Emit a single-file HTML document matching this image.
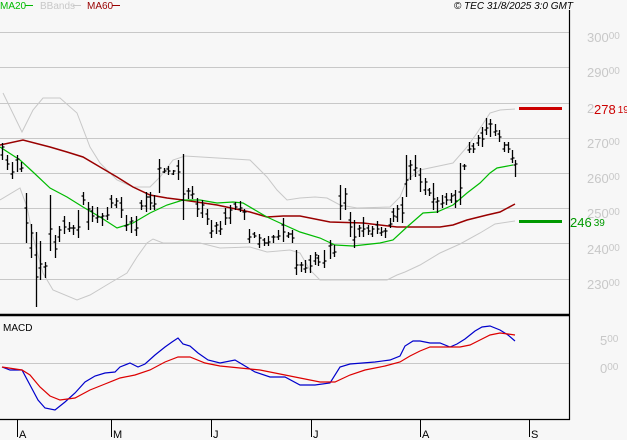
<!DOCTYPE html>
<html><head><meta charset="utf-8"><style>
html,body{margin:0;padding:0;background:#f7f7f7;width:627px;height:440px;overflow:hidden}
svg{display:block;font-family:"Liberation Sans",sans-serif}
</style></head><body>
<svg id="s" width="627" height="440" viewBox="0 0 627 440" xmlns="http://www.w3.org/2000/svg">
<rect width="627" height="440" fill="#f7f7f7"/>
<g stroke="#c8c8c8" stroke-width="1">
<line x1="0" y1="32.5" x2="569" y2="32.5"/><line x1="0" y1="67.5" x2="569" y2="67.5"/>
<line x1="0" y1="103.5" x2="569" y2="103.5"/><line x1="0" y1="138.5" x2="569" y2="138.5"/>
<line x1="0" y1="173.5" x2="569" y2="173.5"/><line x1="0" y1="208.5" x2="569" y2="208.5"/>
<line x1="0" y1="243.5" x2="569" y2="243.5"/><line x1="0" y1="279.5" x2="569" y2="279.5"/>
<line x1="0" y1="363.5" x2="569" y2="363.5"/>
</g>
<g fill="#c8c8c8" font-size="13">
<text x="587" y="42">300<tspan font-size="10" dy="-3">00</tspan></text>
<text x="587" y="77">290<tspan font-size="10" dy="-3">00</tspan></text>
<text x="587" y="148">270<tspan font-size="10" dy="-3">00</tspan></text>
<text x="587" y="183">260<tspan font-size="10" dy="-3">00</tspan></text>
<text x="587" y="218">250<tspan font-size="10" dy="-3">00</tspan></text>
<text x="587" y="254">240<tspan font-size="10" dy="-3">00</tspan></text>
<text x="587" y="289">230<tspan font-size="10" dy="-3">00</tspan></text>
<text x="600" y="345">5<tspan font-size="10" dy="-3">00</tspan></text>
<text x="600" y="373">0<tspan font-size="10" dy="-3">00</tspan></text>
</g>
<text x="587" y="113" fill="#c8c8c8" font-size="13">2</text>
<g id="bands" fill="none" stroke-width="1">
<polyline stroke="#c8c8c8" points="3,93 22,132 33,110 43,98 60,98 77,113 90,147 100,163 117,180 133,187 150,187 160,177 173,160 185,156 250,160 267,177 277,190 287,200 300,198 315,197 327,198 340,205 357,208 390,207 400,197 407,180 420,170 453,163 467,147 477,133 490,113 500,110 515,109"/>
<polyline stroke="#c8c8c8" points="0,200 20,188 27,207 33,237 43,273 53,290 77,300 90,295 110,283 127,273 137,257 147,243 153,239 163,243 200,243 220,248 250,247 267,252 290,250 300,253 310,270 320,280 387,280 397,275 405,272 420,265 440,253 460,244 480,233 495,224 515,221"/>
<polyline stroke="#990000" stroke-width="1.5" points="0,145 23,140 50,147 67,152 83,157 100,167 117,177 133,187 150,195 167,198 183,200 217,205 250,212 267,217 283,216 300,216 330,222 363,223 397,227 440,227 453,225 467,220 487,215 500,212 515,204"/>
<polyline stroke="#00bb00" stroke-width="1.2" points="0,147 20,160 33,172 50,188 67,197 83,207 100,217 117,228 133,223 150,213 167,205 183,200 200,200 217,203 233,202 243,203 267,217 280,223 300,232 320,238 335,245 353,246 380,243 393,240 407,227 423,213 437,212 453,205 467,193 480,183 490,173 497,168 513,165"/>
</g>
<path id="bars" fill="none" stroke="#000" stroke-width="1.3" d=""/>
<g fill="none" stroke-width="1.2">
<polyline stroke="#0000cc" points="2,367 10,370 22,370 30,385 38,400 45,408 55,410 65,402 75,393 85,382 95,376 105,373 115,372 120,367 130,363 138,367 145,364 155,355 165,347 172,342 178,338 183,344 190,346 198,353 208,360 220,363 235,360 255,372 270,377 285,377 300,385 315,385 330,383 340,367 350,364 375,362 390,360 400,356 405,346 413,341 420,341 430,343 440,343 450,347 457,344 465,339 475,331 482,327 490,326 500,330 508,335 515,341"/>
<polyline stroke="#dd0000" points="2,367 22,370 30,375 40,387 50,396 60,400 75,398 90,390 105,384 120,378 135,375 150,370 165,362 178,357 190,357 205,363 220,366 240,368 260,370 280,374 300,378 320,382 335,382 350,375 365,370 385,366 400,362 410,356 420,351 430,347 440,347 460,347 470,345 480,340 490,335 500,333 508,334 515,335"/>
</g>
<line x1="519" y1="108.5" x2="562" y2="108.5" stroke="#cc0000" stroke-width="3"/>
<line x1="519" y1="221.5" x2="562" y2="221.5" stroke="#009900" stroke-width="3"/>
<text x="594" y="114" fill="#cc0000" font-size="13">278<tspan font-size="10" dx="2" dy="-1">19</tspan></text>
<text x="570" y="227" fill="#009900" font-size="13">246<tspan font-size="10" dx="2" dy="-1">39</tspan></text>
<line x1="0" y1="315" x2="569" y2="315" stroke="#000" stroke-width="2.5"/>
<line x1="569.5" y1="10" x2="569.5" y2="420" stroke="#000" stroke-width="1.2"/>
<line x1="0" y1="419.5" x2="570" y2="419.5" stroke="#000" stroke-width="1.2"/>
<g stroke="#000" stroke-width="1"><line x1="17.5" y1="419" x2="17.5" y2="437"/><line x1="111.5" y1="419" x2="111.5" y2="437"/><line x1="211.5" y1="419" x2="211.5" y2="437"/><line x1="311.5" y1="419" x2="311.5" y2="437"/><line x1="420.5" y1="419" x2="420.5" y2="437"/><line x1="529.5" y1="419" x2="529.5" y2="437"/></g>
<g font-size="11" fill="#000"><text x="19" y="438">A</text><text x="113" y="438">M</text><text x="213" y="438">J</text><text x="313" y="438">J</text><text x="422" y="438">A</text><text x="531" y="438">S</text></g>
<text x="3" y="331" font-size="10" fill="#000">MACD</text>
<text x="0" y="9" font-size="10" fill="#00bb00">MA20</text><line x1="25" y1="5.5" x2="33" y2="5.5" stroke="#00bb00"/>
<text x="40" y="9" font-size="10" fill="#c8c8c8">BBands</text><line x1="73" y1="5.5" x2="81" y2="5.5" stroke="#c8c8c8"/>
<text x="87" y="9" font-size="10" fill="#990000">MA60</text><line x1="112" y1="5.5" x2="120" y2="5.5" stroke="#990000"/>
<text x="573" y="9" font-size="10" font-style="italic" text-anchor="end" fill="#000">© TEC 31/8/2025 3:0 GMT</text>
</svg>
<script>
var b=[[2,143,160],[7,155,170],[12,162,179],[17,155,172],[21,162,172],[26,193,243],[31,224,258],[36,232,307],[40,241,280],[45,262,278],[50,195,251],[55,235,258],[59,226,242],[64,216,234],[69,222,232],[73,225,235],[78,210,238],[83,192,205],[88,202,230],[92,206,222],[97,207,223],[102,213,226],[107,207,220],[111,195,208],[116,198,208],[121,197,218],[126,215,231],[131,217,233],[136,216,236],[141,200,210],[146,192,212],[150,192,210],[154,195,210],[159,159,193],[164,168,173],[168,166,175],[173,170,175],[178,160,180],[183,154,220],[188,188,199],[192,186,199],[197,198,217],[202,200,218],[207,209,225],[211,220,238],[216,222,234],[220,221,235],[225,208,225],[230,205,224],[235,202,210],[240,201,212],[244,209,220],[249,229,243],[254,232,238],[259,234,248],[264,238,246],[268,236,246],[273,235,243],[278,230,240],[283,218,242],[288,232,238],[292,230,243],[296,250,275],[301,262,272],[305,260,273],[310,255,273],[315,252,265],[318,255,266],[324,250,268],[330,240,259],[334,245,257],[340,185,220],[345,188,210],[350,212,237],[354,220,248],[359,225,237],[363,217,237],[368,225,235],[372,226,237],[377,221,234],[381,227,236],[385,228,238],[390,218,228],[393,208,222],[397,205,222],[402,197,223],[406,155,197],[410,160,180],[415,155,177],[420,168,192],[425,178,195],[429,188,196],[433,183,210],[437,197,213],[442,195,208],[446,193,205],[451,193,203],[455,190,208],[460,163,205],[464,164,170],[469,142,153],[473,143,153],[478,135,146],[482,127,147],[486,118,135],[490,119,137],[495,124,136],[499,130,142],[504,142,152],[508,142,153],[512,150,163],[515,160,177]];
var d="";b.forEach(function(r,i){var x=r[0]+.5,t=r[1],B=r[2],h=B-t;var o=Math.round(t+h*(i%2?0.3:0.7)),c=Math.round(t+h*(i%3?0.6:0.25));d+="M"+x+","+t+"V"+B+"M"+(x-2)+","+o+"H"+x+"M"+x+","+c+"H"+(x+2);});
document.getElementById("bars").setAttribute("d",d);
</script>
</body></html>
